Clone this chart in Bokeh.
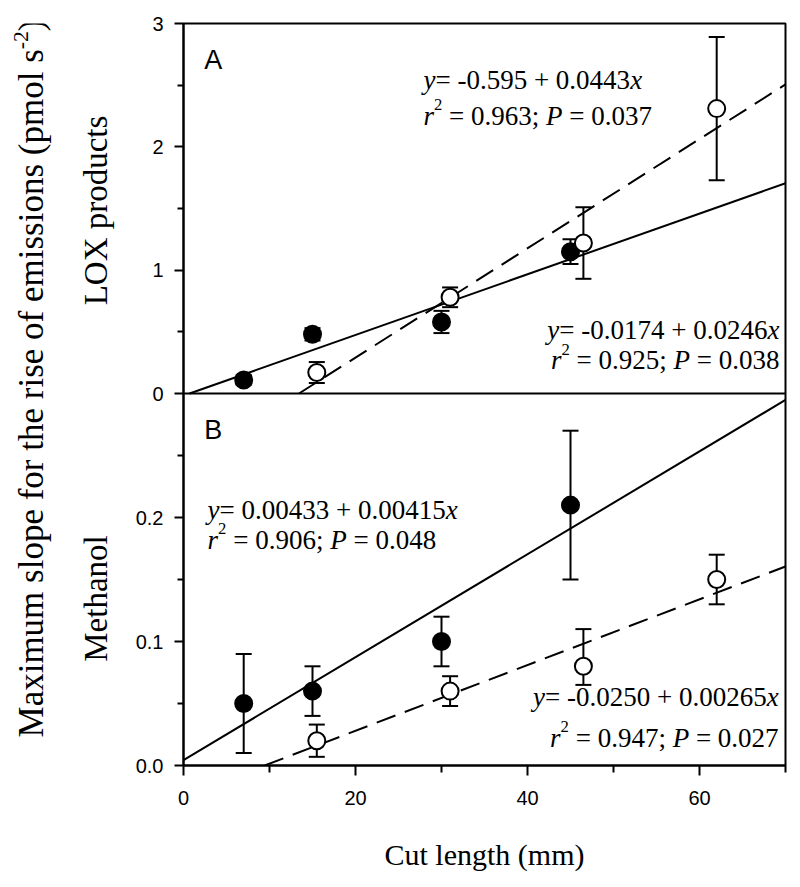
import math
from bokeh.plotting import figure
from bokeh.models import Range1d, FixedTicker, Label, Span
from bokeh.layouts import row
from bokeh.embed import file_html
from bokeh.resources import INLINE

# ---------------- data ----------------
x_ticks = [0, 20, 40, 60]
x_minor = [10, 30, 50, 70]
x_max = 70

lox_ticks = [0, 1, 2, 3]
lox_tick_labels = ["0", "1", "2", "3"]
lox_minor = [0.5, 1.5, 2.5]
lox_max = 3

meth_ticks = [0.0, 0.1, 0.2]
meth_tick_labels = ["0.0", "0.1", "0.2"]
meth_minor = [0.05, 0.15, 0.25]
meth_max = 0.3

# LOX products (panel A)
lox_closed_x = [7, 15, 30, 45]
lox_closed_y = [0.11, 0.48, 0.58, 1.15]
lox_closed_err = [0.04, 0.05, 0.09, 0.10]
lox_open_x = [15.5, 31, 46.5, 62]
lox_open_y = [0.17, 0.78, 1.22, 2.31]
lox_open_err = [0.085, 0.08, 0.29, 0.58]

# Methanol (panel B)
meth_closed_x = [7, 15, 30, 45]
meth_closed_y = [0.050, 0.060, 0.100, 0.210]
meth_closed_err = [0.040, 0.020, 0.020, 0.060]
meth_open_x = [15.5, 31, 46.5, 62]
meth_open_y = [0.020, 0.060, 0.080, 0.150]
meth_open_err_lo = [0.013, 0.012, 0.015, 0.020]
meth_open_err_hi = [0.013, 0.012, 0.030, 0.020]

# regression results: intercept, slope, r2, P (as printed)
lox_closed_fit = ["-0.0174", "0.0246", "0.925", "0.038"]
lox_open_fit = ["-0.595", "0.0443", "0.963", "0.037"]
meth_closed_fit = ["0.00433", "0.00415", "0.906", "0.048"]
meth_open_fit = ["-0.0250", "0.00265", "0.947", "0.027"]

x_title = "Cut length (mm)"
y_title = "Maximum slope for the rise of emissions (pmol s"
y_title_sup = "-2"
lox_title = "LOX products"
meth_title = "Methanol"

# ---------------- geometry ----------------
FRAME_W = 602
LOX_H = 370
METH_H = 372
LEFT_W = 128
BORDER_L = 55
BORDER_R = 7
BORDER_T = 23
BORDER_B = 110
TOTAL_H = BORDER_T + LOX_H + METH_H + BORDER_B

main_y_end = meth_max * (LOX_H + METH_H) / METH_H
lox_y_start = -lox_max * METH_H / LOX_H
lox_to_main = (meth_max / METH_H) * (LOX_H / lox_max)

SERIF_FONT = "Liberation Serif"
SANS_FONT = "Liberation Sans"
LIFT = 8     # px correction for the alphabetic baseline
VSHIFT = 23  # px correction for rotated labels

TIMES = {' ': 250, '.': 250, '-': 333, '+': 564, '=': 564, ';': 278, '(': 333, ')': 333,
         'a': 444, 'b': 500, 'c': 444, 'd': 500, 'e': 444, 'f': 333, 'g': 500, 'h': 500,
         'i': 278, 'j': 278, 'k': 500, 'l': 278, 'm': 778, 'n': 500, 'o': 500, 'p': 500,
         'q': 500, 'r': 333, 's': 389, 't': 278, 'u': 500, 'v': 500, 'w': 722, 'x': 500,
         'y': 500, 'z': 444, 'L': 611, 'O': 722, 'X': 722, 'M': 889, 'P': 556}
for d in "0123456789":
    TIMES[d] = 500
TIMES_IT = {'y': 444, 'x': 444, 'r': 389, 'P': 611}


def text_w(s, italic, size):
    tbl = TIMES_IT if italic else TIMES
    return sum(tbl.get(c, TIMES.get(c, 500)) for c in s) * size / 1000.0


def eq_segments(fit):
    a, b, r2, pv = fit
    line1 = [("y", "i"), ("= " + a + " + " + b, "n"), ("x", "i")]
    line2 = [("r", "i"), ("2", "s"), (" = " + r2 + "; ", "n"), ("P", "i"), (" = " + pv, "n")]
    return line1, line2


def place_line(p, segs, x, y, align, size, px_per_unit, range_name="default"):
    sizes = [size * 0.62 if k == "s" else size for _, k in segs]
    widths = [text_w(t, k == "i", s) for (t, k), s in zip(segs, sizes)]
    total = sum(widths)
    off = 0.0 if align == "left" else -total
    for (t, k), w, s in zip(segs, widths, sizes):
        lead = len(t) - len(t.lstrip(" "))
        shown = t.strip(" ")
        yy = y + (LIFT + (0.42 * size if k == "s" else 0.0)) / px_per_unit
        p.add_layout(Label(x=x, y=yy, x_offset=off + lead * 0.25 * s, text=shown,
                           text_font=SERIF_FONT, text_font_size=f"{s:.1f}px",
                           text_font_style="italic" if k == "i" else "normal",
                           text_align="left", text_baseline="alphabetic",
                           text_color="black", y_range_name=range_name))
        off += w


# ---------------- main figure ----------------
p = figure(frame_width=FRAME_W, frame_height=LOX_H + METH_H,
           x_range=Range1d(0, x_max), y_range=Range1d(0, main_y_end),
           min_border_left=BORDER_L, min_border_right=BORDER_R,
           min_border_top=BORDER_T, min_border_bottom=BORDER_B,
           toolbar_location=None, output_backend="svg")
p.extra_y_ranges = {"lox": Range1d(lox_y_start, lox_max)}
p.grid.visible = False
p.outline_line_color = "black"
p.outline_line_width = 2
p.background_fill_color = "white"
p.border_fill_color = "white"

# y axis: methanol ticks on main range, LOX ticks mapped onto it
lox_tick_pos = [meth_max + v * lox_to_main for v in lox_ticks]
lox_minor_pos = [meth_max + v * lox_to_main for v in lox_minor]
yax = p.yaxis[0]
yax.ticker = FixedTicker(ticks=meth_ticks + lox_tick_pos, minor_ticks=meth_minor + lox_minor_pos)
overrides = {}
for t, lab in zip(meth_ticks, meth_tick_labels):
    overrides[t] = lab
for t, lab in zip(lox_tick_pos, lox_tick_labels):
    overrides[t] = lab
yax.major_label_overrides = overrides

xax = p.xaxis[0]
xax.ticker = FixedTicker(ticks=x_ticks, minor_ticks=x_minor)
xax.axis_label = x_title

for ax in (xax, yax):
    ax.axis_line_width = 2
    ax.axis_line_color = "black"
    ax.major_tick_line_width = 2
    ax.minor_tick_line_width = 2
    ax.major_tick_line_color = "black"
    ax.minor_tick_line_color = "black"
    ax.major_tick_in = 0
    ax.minor_tick_in = 0
    ax.major_label_text_font = SANS_FONT
    ax.major_label_text_font_size = "20px"
    ax.major_label_text_color = "black"
xax.major_tick_out = 10
xax.minor_tick_out = 7
yax.major_tick_out = 9
yax.minor_tick_out = 6
xax.major_label_standoff = 15
yax.major_label_standoff = 11
xax.axis_label_text_font = SERIF_FONT
xax.axis_label_text_font_style = "normal"
xax.axis_label_text_font_size = "30px"
xax.axis_label_text_color = "black"
xax.axis_label_standoff = 30

# separator between panels
p.add_layout(Span(location=meth_max, dimension="width", line_color="black", line_width=2))


def fit_line(fit):
    a, b = float(fit[0]), float(fit[1])
    x0 = max(0.0, -a / b)
    xs = [x0, x_max]
    ys = [a + b * xv for xv in xs]
    return xs, ys


def draw_panel(cx, cy, cerr_lo, cerr_hi, ox, oy, oerr_lo, oerr_hi, cfit, ofit, rn):
    xs, ys = fit_line(cfit)
    p.line(xs, ys, line_color="black", line_width=2, y_range_name=rn)
    xs, ys = fit_line(ofit)
    p.line(xs, ys, line_color="black", line_width=2, line_dash="20 10", y_range_name=rn)
    for X, Y, lo, hi, fill in ((cx, cy, cerr_lo, cerr_hi, "black"), (ox, oy, oerr_lo, oerr_hi, "white")):
        low = [y - e for y, e in zip(Y, lo)]
        up = [y + e for y, e in zip(Y, hi)]
        p.segment(X, low, X, up, line_color="black", line_width=2, y_range_name=rn)
        p.scatter(X, low, marker="dash", size=16, line_color="black", line_width=2, y_range_name=rn)
        p.scatter(X, up, marker="dash", size=16, line_color="black", line_width=2, y_range_name=rn)
        p.scatter(X, Y, marker="circle", size=17, fill_color=fill, line_color="black",
                  line_width=2, y_range_name=rn)


draw_panel(lox_closed_x, lox_closed_y, lox_closed_err, lox_closed_err,
           lox_open_x, lox_open_y, lox_open_err, lox_open_err,
           lox_closed_fit, lox_open_fit, "lox")
draw_panel(meth_closed_x, meth_closed_y, meth_closed_err, meth_closed_err,
           meth_open_x, meth_open_y, meth_open_err_lo, meth_open_err_hi,
           meth_closed_fit, meth_open_fit, "default")

# equations
EQ = 27
lox_px = LOX_H / lox_max
meth_px = METH_H / meth_max
l1, l2 = eq_segments(lox_open_fit)
place_line(p, l1, 27.9, 2.481, "left", EQ, lox_px, "lox")
place_line(p, l2, 27.9, 2.189, "left", EQ, lox_px, "lox")
l1, l2 = eq_segments(lox_closed_fit)
place_line(p, l1, 69.3, 0.454, "right", EQ, lox_px, "lox")
place_line(p, l2, 69.3, 0.203, "right", EQ, lox_px, "lox")
l1, l2 = eq_segments(meth_closed_fit)
place_line(p, l1, 2.8, 0.200, "left", EQ, meth_px)
place_line(p, l2, 2.8, 0.1758, "left", EQ, meth_px)
l1, l2 = eq_segments(meth_open_fit)
place_line(p, l1, 69.2, 0.0484, "right", EQ, meth_px)
place_line(p, l2, 69.2, 0.0161, "right", EQ, meth_px)

# panel letters
p.add_layout(Label(x=2.4, y=2.635 + 9 / lox_px, text="A", text_font=SANS_FONT,
                   text_font_size="27px", text_baseline="alphabetic", text_color="black",
                   y_range_name="lox"))
p.add_layout(Label(x=2.4, y=0.2637 + 9 / meth_px, text="B", text_font=SANS_FONT,
                   text_font_size="27px", text_baseline="alphabetic", text_color="black"))

# ---------------- left titles ----------------
lf = figure(frame_width=LEFT_W, frame_height=TOTAL_H,
            x_range=Range1d(0, LEFT_W), y_range=Range1d(TOTAL_H, 0),
            min_border_left=0, min_border_right=0, min_border_top=0, min_border_bottom=0,
            x_axis_location=None, y_axis_location=None, toolbar_location=None,
            output_backend="svg")
lf.grid.visible = False
lf.outline_line_color = None
lf.background_fill_color = "white"
lf.border_fill_color = "white"


def vlabel(text, x, y, size):
    lf.add_layout(Label(x=x, y=y - VSHIFT, text=text, angle=math.pi / 2, text_font=SERIF_FONT,
                        text_font_size=f"{size:.1f}px", text_align="center",
                        text_baseline="middle", text_color="black"))


TS = 35
w_main = text_w(y_title, False, TS)
w_sup = text_w(y_title_sup, False, TS * 0.62)
w_close = text_w(")", False, TS)
total = w_main + w_sup + w_close
start = 378 + total / 2
vlabel(y_title, 31, start - w_main / 2, TS)
vlabel(y_title_sup, 31 - 0.3 * TS, start - w_main - w_sup / 2, TS * 0.62)
vlabel(")", 31, start - w_main - w_sup - w_close / 2, TS)

LS = 33
vlabel(lox_title, 95, 210, LS)
vlabel(meth_title, 95, 598, LS)

layout = row(lf, p)
open("out.html", "w").write(file_html(layout, INLINE))
